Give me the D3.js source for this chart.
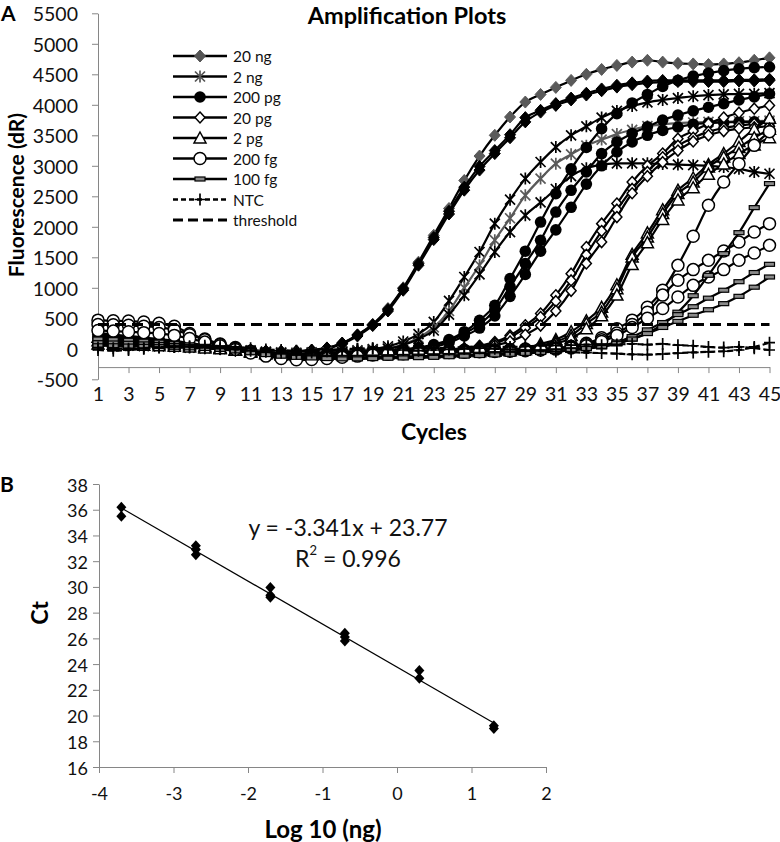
<!DOCTYPE html>
<html><head><meta charset="utf-8">
<script src="https://cdn.jsdelivr.net/npm/d3@7"></script>
<style>
body{margin:0;background:#fff;}
svg{display:block;font-family:Lato,'Open Sans',sans-serif;}
</style></head><body>
<svg id="c" width="780" height="842"></svg>
<script>
// ---------------- DATA (panel A) ----------------
const cycles = [1,2,3,4,5,6,7,8,9,10,11,12,13,14,15,16,17,18,19,20,21,22,23,24,25,26,27,28,29,30,31,32,33,34,35,36,37,38,39,40,41,42,43,44,45];
const threshold = 400;
const ng20a = [180,165,150,130,110,85,60,35,15,-5,-25,-40,-45,-40,-25,10,90,230,400,660,1000,1420,1860,2300,2760,3160,3500,3800,4045,4170,4285,4400,4500,4580,4645,4700,4730,4700,4680,4670,4660,4670,4690,4730,4770];
const ng20b = [240,215,190,165,140,110,80,50,25,0,-20,-35,-40,-35,-20,15,95,225,395,645,985,1395,1825,2255,2650,2990,3250,3510,3790,3910,4020,4110,4190,4260,4320,4360,4390,4400,4400,4400,4400,4400,4410,4410,4420];
const ng20c = [120,110,100,90,75,60,45,25,5,-15,-35,-50,-55,-45,-30,5,80,210,380,620,960,1370,1790,2210,2600,2930,3200,3460,3720,3880,3990,4080,4160,4230,4290,4330,4360,4370,4380,4380,4380,4380,4390,4390,4400];
const ng2a = [150,140,125,110,95,75,55,35,15,-5,-25,-45,-60,-65,-60,-50,-40,-25,-5,40,120,240,440,784,1177,1587,2052,2445,2790,3062,3307,3500,3647,3790,3900,3980,4040,4080,4110,4140,4160,4170,4180,4180,4190];
const ng2b = [90,85,80,70,60,50,35,20,5,-10,-30,-50,-65,-70,-65,-55,-45,-35,-20,10,70,180,350,620,1000,1370,1780,2140,2516,2790,3035,3188,3330,3430,3520,3590,3650,3680,3700,3710,3720,3720,3730,3730,3740];
const ng2c = [60,55,50,45,40,30,20,10,0,-15,-35,-55,-70,-80,-75,-65,-55,-45,-30,0,60,160,300,560,877,1221,1587,1914,2188,2400,2620,2830,2960,3020,3040,3040,3040,3030,3020,3010,3000,2980,2950,2900,2870];
const pg200a = [260,235,210,185,160,130,95,60,25,-10,-45,-75,-95,-100,-90,-80,-70,-60,-45,-30,-10,20,70,150,280,467,713,1150,1600,2078,2544,2950,3300,3609,3855,4030,4170,4300,4400,4470,4520,4560,4590,4610,4620];
const pg200b = [200,180,160,140,120,95,70,45,20,-10,-40,-70,-90,-95,-90,-80,-70,-60,-50,-35,-20,10,55,130,250,400,640,1020,1396,1778,2242,2598,2900,3200,3390,3530,3640,3750,3830,3900,3960,4020,4080,4130,4180];
const pg200c = [140,125,110,95,80,65,45,25,5,-20,-50,-80,-100,-110,-100,-90,-80,-70,-60,-50,-35,-10,30,100,210,340,540,860,1220,1600,1950,2320,2700,3000,3226,3390,3500,3580,3636,3680,3700,3710,3720,3720,3730];
const pg20a = [210,190,170,150,125,100,75,45,15,-15,-45,-70,-85,-90,-85,-75,-65,-55,-50,-45,-40,-35,-25,-10,10,50,110,220,385,577,877,1232,1668,2052,2380,2734,3000,3200,3445,3570,3690,3790,3870,3936,3990];
const pg20b = [170,155,140,120,100,80,60,35,10,-20,-50,-75,-90,-95,-90,-80,-70,-60,-55,-50,-45,-40,-30,-20,0,35,90,190,340,520,780,1120,1540,1930,2280,2620,2900,3140,3330,3460,3560,3620,3660,3690,3720];
const pg20c = [110,100,90,80,70,55,40,20,0,-25,-55,-80,-100,-105,-100,-90,-80,-70,-65,-60,-55,-50,-40,-30,-15,15,60,120,230,380,620,950,1400,1750,2160,2550,2830,3060,3250,3400,3500,3570,3610,3630,3650];
const pg2a = [190,175,160,140,120,95,70,45,20,-10,-40,-65,-80,-85,-80,-75,-70,-65,-60,-55,-50,-45,-40,-35,-30,-25,-20,-10,10,80,150,280,460,680,1050,1550,1900,2280,2600,2800,3020,3200,3400,3600,3780];
const pg2b = [130,120,110,95,80,65,50,30,10,-20,-50,-75,-90,-95,-90,-85,-80,-75,-70,-65,-60,-55,-50,-45,-40,-35,-30,-20,0,50,120,220,413,603,986,1504,1832,2216,2544,2734,2980,3144,3300,3460,3600];
const pg2c = [80,75,70,60,50,40,30,15,0,-25,-55,-80,-100,-110,-105,-100,-95,-90,-85,-80,-75,-70,-65,-60,-55,-50,-40,-30,-15,30,90,170,330,540,880,1380,1740,2120,2440,2640,2860,3030,3200,3340,3460];
const fg200a = [470,460,455,440,420,370,250,160,80,20,-40,-90,-130,-150,-140,-120,-100,-85,-70,-60,-50,-40,-35,-30,-25,-20,-15,-10,-5,0,15,40,90,180,330,470,680,960,1368,1844,2352,2734,3035,3335,3560];
const fg200b = [400,395,385,370,350,310,230,150,70,10,-50,-100,-140,-160,-155,-140,-120,-100,-85,-75,-65,-55,-50,-45,-40,-35,-30,-25,-15,-5,10,30,70,150,260,400,600,880,1123,1298,1450,1603,1750,1914,2052];
const fg200c = [300,290,280,265,250,220,170,110,50,-10,-70,-120,-160,-180,-175,-160,-140,-120,-100,-90,-80,-70,-65,-60,-55,-50,-45,-40,-30,-20,-5,15,50,120,220,350,500,659,849,1040,1177,1298,1450,1570,1696];
const fg100a = [160,150,140,125,110,90,65,40,15,-15,-50,-85,-110,-125,-130,-135,-140,-140,-135,-130,-125,-120,-115,-110,-100,-90,-80,-70,-60,-50,-35,-20,0,30,80,160,260,400,600,870,1205,1560,1904,2314,2708];
const fg100b = [100,95,90,80,70,55,40,20,0,-30,-60,-90,-115,-130,-140,-145,-150,-150,-145,-140,-135,-130,-125,-120,-110,-100,-90,-80,-70,-55,-40,-20,10,50,110,200,310,430,560,690,830,960,1100,1250,1385];
const fg100c = [50,50,45,40,35,25,15,5,-10,-35,-65,-95,-120,-140,-150,-160,-165,-165,-160,-155,-150,-145,-140,-130,-120,-110,-100,-90,-75,-60,-45,-25,5,40,90,160,250,350,450,550,640,740,860,1010,1177];
const ntcA = [20,10,0,10,25,35,30,20,5,-10,-30,-50,-65,-75,-60,-40,-20,-5,5,-10,-20,-30,-20,-10,0,10,0,-10,-20,-35,-45,-55,-65,-70,-80,-90,-95,-85,-70,-60,-50,-40,-20,30,100];
const ntcB = [-20,-30,-20,0,20,30,40,50,45,30,10,-10,-20,-30,-25,-15,-5,0,10,15,20,15,10,20,30,40,35,30,40,50,55,60,70,60,70,80,70,80,60,50,30,20,30,10,-20];
const legendLabels = ["20 ng","2 ng","200 pg","20 pg","2 pg","200 fg","100 fg","NTC","threshold"];
const yTicksA = [-500,0,500,1000,1500,2000,2500,3000,3500,4000,4500,5000,5500];
const xTicksA = [1,3,5,7,9,11,13,15,17,19,21,23,25,27,29,31,33,35,37,39,41,43,45];

// ---------------- DATA (panel B) ----------------
const logConc = [1.3,1.3,0.3,0.3,-0.7,-0.7,-0.7,-1.7,-1.7,-1.7,-2.7,-2.7,-2.7,-3.7,-3.7];
const ctValues = [19.2,19.0,23.5,22.9,26.4,26.1,25.8,29.95,29.35,29.2,33.2,32.9,32.5,36.2,35.5];
const fitSlope = -3.341, fitIntercept = 23.77;
const xTicksB = [-4,-3,-2,-1,0,1,2];
const yTicksB = [16,18,20,22,24,26,28,30,32,34,36,38];

// series -> legend group (index into legendLabels) + shade
const seriesA = [
  {g:0, values:ng20a, shade:"grey"},
  {g:0, values:ng20b},
  {g:0, values:ng20c},
  {g:1, values:ng2a},
  {g:1, values:ng2b, shade:"grey"},
  {g:1, values:ng2c},
  {g:2, values:pg200a},
  {g:2, values:pg200b},
  {g:2, values:pg200c},
  {g:3, values:pg20a},
  {g:3, values:pg20b},
  {g:3, values:pg20c},
  {g:4, values:pg2a},
  {g:4, values:pg2b},
  {g:4, values:pg2c},
  {g:5, values:fg200a},
  {g:5, values:fg200b},
  {g:5, values:fg200c},
  {g:6, values:fg100a},
  {g:6, values:fg100b},
  {g:6, values:fg100c},
  {g:7, values:ntcA},
  {g:7, values:ntcB}
];

// ---------------- STYLE ----------------
const markerTypes = ["diamondFill","asterisk","circleFill","diamondOpen","triangle","circleOpen","dash","plus"];
const axisGrey = "#868686";
const fmt = d => String(d);
const svg = d3.select("#c");

function marker(g, type, x, y, color) {
  const c = color || "#000";
  switch (type) {
    case "diamondFill":
      g.append("path").attr("d",`M${x},${y-6}L${x+5.5},${y}L${x},${y+6}L${x-5.5},${y}Z`).attr("fill",c).attr("stroke",c).attr("stroke-width",1); break;
    case "asterisk":
      g.append("path").attr("d",`M${x-5},${y-5}L${x+5},${y+5}M${x-5},${y+5}L${x+5},${y-5}M${x},${y-6}L${x},${y+6}`).attr("stroke",c).attr("stroke-width",1.7).attr("fill","none"); break;
    case "circleFill":
      g.append("circle").attr("cx",x).attr("cy",y).attr("r",5.8).attr("fill",c); break;
    case "diamondOpen":
      g.append("path").attr("d",`M${x},${y-5.5}L${x+5},${y}L${x},${y+5.5}L${x-5},${y}Z`).attr("fill","#fff").attr("stroke",c).attr("stroke-width",1.5); break;
    case "triangle":
      g.append("path").attr("d",`M${x},${y-6}L${x+6},${y+5}L${x-6},${y+5}Z`).attr("fill","#fff").attr("stroke",c).attr("stroke-width",1.5); break;
    case "circleOpen":
      g.append("circle").attr("cx",x).attr("cy",y).attr("r",6).attr("fill","#fff").attr("stroke",c).attr("stroke-width",1.5); break;
    case "dash":
      g.append("rect").attr("x",x-5).attr("y",y-2).attr("width",10).attr("height",4).attr("fill","#8a8a8a").attr("stroke","#000").attr("stroke-width",1.2); break;
    case "plus":
      g.append("path").attr("d",`M${x-5.5},${y}L${x+5.5},${y}M${x},${y-6}L${x},${y+6}`).attr("stroke",c).attr("stroke-width",1.7); break;
  }
}

// ---------------- PANEL A ----------------
const xA = d3.scaleLinear().domain([1,45]).range([98,769.5]);
const yA = d3.scaleLinear().domain([-500,5500]).range([379.3,13.3]);

const gA = svg.append("g");
const yAxA = gA.append("g").attr("transform","translate(98,0)")
  .call(d3.axisLeft(yA).tickValues(yTicksA).tickSize(6).tickSizeOuter(0).tickPadding(14).tickFormat(fmt));
const xAxA = gA.append("g").attr("transform",`translate(0,${yA(-300)})`)
  .call(d3.axisBottom(xA).tickValues(xTicksA).tickSize(6).tickSizeOuter(0).tickPadding(14).tickFormat(fmt));
[yAxA,xAxA].forEach(a=>{
  a.select(".domain").attr("stroke",axisGrey);
  a.selectAll(".tick line").attr("stroke",axisGrey);
  a.selectAll(".tick text").attr("fill","#111").style("font-size","19.5px").style("font-family","Lato");
});
yAxA.selectAll(".tick text").attr("dy",null).attr("dominant-baseline","central");
xAxA.selectAll(".tick text").attr("dy",null).attr("y",26).attr("dominant-baseline","central");

const lineA = d3.line().x((d,i)=>xA(cycles[i])).y(d=>yA(d)).curve(d3.curveCatmullRom.alpha(0.5));
const plot = gA.append("g");
seriesA.forEach(s=>{
  const grp = plot.append("g");
  const isNTC = s.g===7;
  grp.append("path").attr("d",lineA(s.values)).attr("fill","none")
    .attr("stroke", s.shade==="grey" && s.g===1 ? "#5a5a5a" : "#000")
    .attr("stroke-width",2.2)
    .attr("stroke-dasharray", isNTC ? "6,3" : null);
  const mc = s.shade==="grey" ? "#5a5a5a" : "#000";
  s.values.forEach((v,i)=>marker(grp, markerTypes[s.g], xA(cycles[i]), yA(v), mc));
});
plot.append("line").attr("x1",xA(cycles[0])).attr("x2",xA(cycles[cycles.length-1]))
  .attr("y1",yA(threshold)).attr("y2",yA(threshold))
  .attr("stroke","#000").attr("stroke-width",3).attr("stroke-dasharray","11,6");

// legend
const leg = gA.append("g");
legendLabels.forEach((lab,i)=>{
  const y = 56 + i*20.5;
  const l = leg.append("g");
  if (i===8) {
    l.append("line").attr("x1",173).attr("x2",227).attr("y1",y).attr("y2",y).attr("stroke","#000").attr("stroke-width",3).attr("stroke-dasharray","10,5");
  } else {
    l.append("line").attr("x1",173).attr("x2",227).attr("y1",y).attr("y2",y).attr("stroke","#000").attr("stroke-width",2.4)
      .attr("stroke-dasharray", i===7 ? "5,3" : null);
    marker(l, markerTypes[i], 200, y, (i===0||i===1) ? "#555" : "#000");
  }
  l.append("text").attr("x",233).attr("y",y).attr("dominant-baseline","central")
    .style("font-size","15.5px").attr("fill","#111").text(lab);
});

// titles
gA.append("text").attr("x",407).attr("y",15).attr("text-anchor","middle").attr("dominant-baseline","central")
  .style("font-size","23.5px").style("font-weight","bold").text("Amplification Plots");
gA.append("text").attr("transform","translate(15,195) rotate(-90)").attr("text-anchor","middle").attr("dominant-baseline","central")
  .style("font-size","21px").style("font-weight","bold").text("Fluorescence (dR)");
gA.append("text").attr("x",434).attr("y",431).attr("text-anchor","middle").attr("dominant-baseline","central")
  .style("font-size","23px").style("font-weight","bold").text("Cycles");
svg.append("text").attr("x",1).attr("y",12).attr("dominant-baseline","central")
  .style("font-size","21px").style("font-weight","bold").text("A");

// ---------------- PANEL B ----------------
const xB = d3.scaleLinear().domain([-4,2]).range([99,546]);
const yB = d3.scaleLinear().domain([16,38]).range([767,484]);
const gB = svg.append("g");
const yAxB = gB.append("g").attr("transform","translate(99,0)")
  .call(d3.axisLeft(yB).tickValues(yTicksB).tickSize(6).tickSizeOuter(0).tickPadding(5).tickFormat(fmt));
const xAxB = gB.append("g").attr("transform","translate(0,767)")
  .call(d3.axisBottom(xB).tickValues(xTicksB).tickSize(6).tickSizeOuter(0).tickPadding(5).tickFormat(fmt));
[yAxB,xAxB].forEach(a=>{
  a.select(".domain").attr("stroke",axisGrey);
  a.selectAll(".tick line").attr("stroke",axisGrey);
  a.selectAll(".tick text").attr("fill","#111").style("font-size","18px").style("font-family","Lato");
});
yAxB.selectAll(".tick text").attr("dy",null).attr("dominant-baseline","central");
xAxB.selectAll(".tick text").attr("dy",null).attr("y",26).attr("dominant-baseline","central");

const xFit = d3.extent(logConc);
gB.append("line").attr("x1",xB(xFit[0])).attr("x2",xB(xFit[1]))
  .attr("y1",yB(fitSlope*xFit[0]+fitIntercept)).attr("y2",yB(fitSlope*xFit[1]+fitIntercept))
  .attr("stroke","#000").attr("stroke-width",1.2);
logConc.forEach((x,i)=>{
  const px = xB(x), py = yB(ctValues[i]);
  gB.append("path").attr("d",`M${px},${py-5.5}L${px+5},${py}L${px},${py+5.5}L${px-5},${py}Z`).attr("fill","#000");
});
gB.append("text").attr("x",348).attr("y",527).attr("text-anchor","middle").attr("dominant-baseline","central")
  .style("font-size","23px").attr("fill","#111").text(`y = ${fitSlope}x + ${fitIntercept}`);
const r2 = gB.append("text").attr("x",348).attr("y",558).attr("text-anchor","middle").attr("dominant-baseline","central")
  .style("font-size","23px").attr("fill","#111");
r2.append("tspan").text("R");
r2.append("tspan").attr("baseline-shift","super").style("font-size","13px").text("2");
r2.append("tspan").text(" = 0.996");
gB.append("text").attr("transform","translate(39,613) rotate(-90)").attr("text-anchor","middle").attr("dominant-baseline","central")
  .style("font-size","23px").style("font-weight","bold").text("Ct");
gB.append("text").attr("x",323).attr("y",828).attr("text-anchor","middle").attr("dominant-baseline","central")
  .style("font-size","24px").style("font-weight","bold").text("Log 10 (ng)");
svg.append("text").attr("x",0).attr("y",483).attr("dominant-baseline","central")
  .style("font-size","21px").style("font-weight","bold").text("B");
</script>
</body></html>
